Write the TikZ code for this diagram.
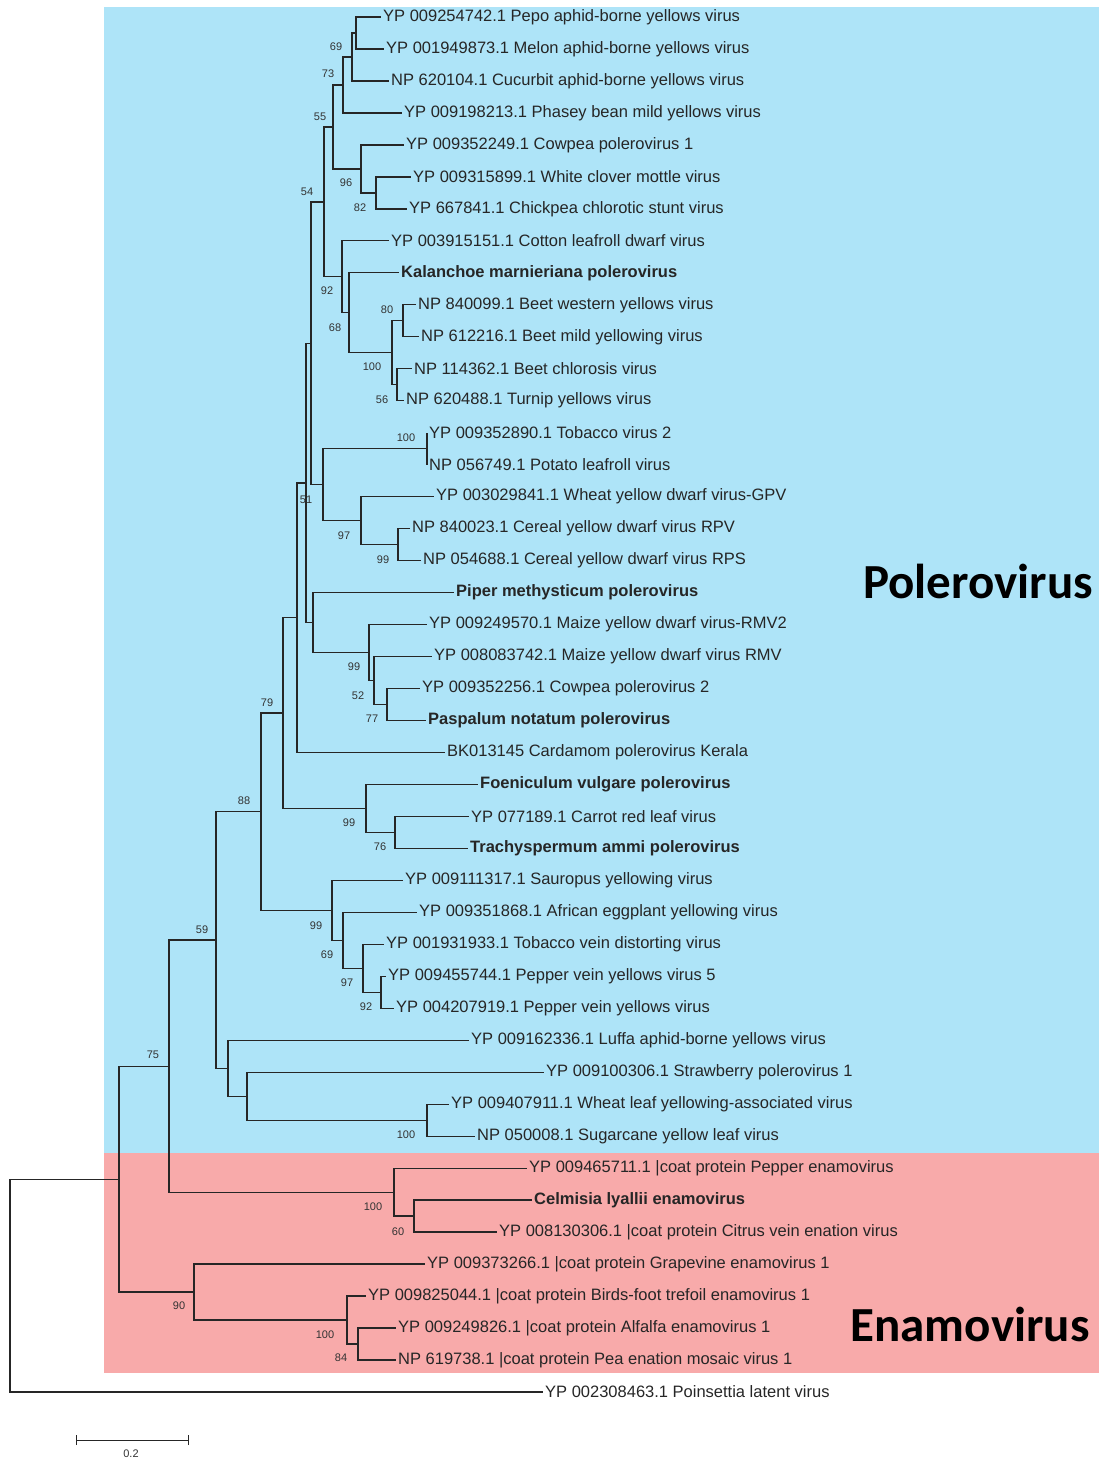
\documentclass[tikz,border=0pt]{standalone}
\usepackage{fontspec}
\setmainfont{Liberation Sans}
\newfontfamily\cladefont{Carlito}
\usetikzlibrary{positioning}
\definecolor{poleroblue}{RGB}{174,228,248}
\definecolor{enamopink}{RGB}{248,170,170}
\tikzset{
  leaf/.style={anchor=west, inner xsep=2pt, inner ysep=0pt, text=black!85, font=\fontsize{16.5}{18}\selectfont},
  newleaf/.style={leaf, font=\fontsize{16.5}{18}\selectfont\bfseries},
  boot/.style={inner sep=0pt, text=black!80, font=\fontsize{11}{12}\selectfont},
  branch/.style={line width=1.3pt, draw=black!85},
  clade/.style={inner sep=0pt, font=\cladefont\fontsize{49}{50}\selectfont\bfseries}
}

\begin{document}
\begin{tikzpicture}[x=1pt, y=-1pt]
    \useasboundingbox (0,0) rectangle (1099,1460);
    % clade boxes
    \fill[poleroblue] (104,7) rectangle (1099,1153);
    \fill[enamopink] (104,1153) rectangle (1099,1373);
    \node[clade] (polero) at (978,581) {Polerovirus};
    \node[clade] (enamo) at (970,1324) {Enamovirus};

    % leaves
    \node[leaf] (l1) at (381,17) {YP 009254742.1 Pepo aphid-borne yellows virus};
    \node[leaf] (l2) at (384,49) {YP 001949873.1 Melon aphid-borne yellows virus};
    \node[leaf] (l3) at (389,81) {NP 620104.1 Cucurbit aphid-borne yellows virus};
    \node[leaf] (l4) at (402,112.9) {YP 009198213.1 Phasey bean mild yellows virus};
    \node[leaf] (l5) at (404,144.9) {YP 009352249.1 Cowpea polerovirus 1};
    \node[leaf] (l6) at (411,176.9) {YP 009315899.1 White clover mottle virus};
    \node[leaf] (l7) at (407,208.9) {YP 667841.1 Chickpea chlorotic stunt virus};
    \node[leaf] (l8) at (389,240.8) {YP 003915151.1 Cotton leafroll dwarf virus};
    \node[newleaf] (l9) at (399,272.8) {Kalanchoe marnieriana polerovirus};
    \node[leaf] (l10) at (416,304.8) {NP 840099.1 Beet western yellows virus};
    \node[leaf] (l11) at (419,336.8) {NP 612216.1 Beet mild yellowing virus};
    \node[leaf] (l12) at (412,368.7) {NP 114362.1 Beet chlorosis virus};
    \node[leaf] (l13) at (404,400.7) {NP 620488.1 Turnip yellows virus};
    \node[leaf] (l14) at (427,432.7) {YP 009352890.1 Tobacco virus 2};
    \node[leaf] (l15) at (427,464.7) {NP 056749.1 Potato leafroll virus};
    \node[leaf] (l16) at (434,496.7) {YP 003029841.1 Wheat yellow dwarf virus-GPV};
    \node[leaf] (l17) at (410,528.6) {NP 840023.1 Cereal yellow dwarf virus RPV};
    \node[leaf] (l18) at (421,560.6) {NP 054688.1 Cereal yellow dwarf virus RPS};
    \node[newleaf] (l19) at (454,592.6) {Piper methysticum polerovirus};
    \node[leaf] (l20) at (427,624.6) {YP 009249570.1 Maize yellow dwarf virus-RMV2};
    \node[leaf] (l21) at (432,656.5) {YP 008083742.1 Maize yellow dwarf virus RMV};
    \node[leaf] (l22) at (420,688.5) {YP 009352256.1 Cowpea polerovirus 2};
    \node[newleaf] (l23) at (426,720.5) {Paspalum notatum polerovirus};
    \node[leaf] (l24) at (445,752.5) {BK013145 Cardamom polerovirus Kerala};
    \node[newleaf] (l25) at (478,784.4) {Foeniculum vulgare polerovirus};
    \node[leaf] (l26) at (469,816.4) {YP 077189.1 Carrot red leaf virus};
    \node[newleaf] (l27) at (468,848.4) {Trachyspermum ammi polerovirus};
    \node[leaf] (l28) at (403,880.4) {YP 009111317.1 Sauropus yellowing virus};
    \node[leaf] (l29) at (417,912.4) {YP 009351868.1 African eggplant yellowing virus};
    \node[leaf] (l30) at (384,944.3) {YP 001931933.1 Tobacco vein distorting virus};
    \node[leaf] (l31) at (386,976.3) {YP 009455744.1 Pepper vein yellows virus 5};
    \node[leaf] (l32) at (394,1008.3) {YP 004207919.1 Pepper vein yellows virus};
    \node[leaf] (l33) at (469,1040.3) {YP 009162336.1 Luffa aphid-borne yellows virus};
    \node[leaf] (l34) at (544,1072.2) {YP 009100306.1 Strawberry polerovirus 1};
    \node[leaf] (l35) at (449,1104.2) {YP 009407911.1 Wheat leaf yellowing-associated virus};
    \node[leaf] (l36) at (475,1136.2) {NP 050008.1 Sugarcane yellow leaf virus};
    \node[leaf] (l37) at (527,1168.2) {YP 009465711.1 |coat protein Pepper enamovirus};
    \node[newleaf] (l38) at (532,1200.1) {Celmisia lyallii enamovirus};
    \node[leaf] (l39) at (497,1232.1) {YP 008130306.1 |coat protein Citrus vein enation virus};
    \node[leaf] (l40) at (425,1264.1) {YP 009373266.1 |coat protein Grapevine enamovirus 1};
    \node[leaf] (l41) at (366,1296.1) {YP 009825044.1 |coat protein Birds-foot trefoil enamovirus 1};
    \node[leaf] (l42) at (396,1328) {YP 009249826.1 |coat protein Alfalfa enamovirus 1};
    \node[leaf] (l43) at (396,1360) {NP 619738.1 |coat protein Pea enation mosaic virus 1};
    \node[leaf] (l44) at (543,1392) {YP 002308463.1 Poinsettia latent virus};

    % internal nodes
    \coordinate (A) at (356,33);
    \coordinate (B) at (352,57);
    \coordinate (C) at (343,85);
    \coordinate (E) at (376,192.9);
    \coordinate (D) at (361,168.9);
    \coordinate (F) at (333,127);
    \coordinate (K) at (403,320.8);
    \coordinate (L) at (397,384.7);
    \coordinate (J) at (392,352.8);
    \coordinate (I) at (349,312.8);
    \coordinate (H) at (342,276.8);
    \coordinate (G) at (324,201.9);
    \coordinate (O) at (427,448.7);
    \coordinate (Q) at (398,544.6);
    \coordinate (P) at (361,520.7);
    \coordinate (N) at (323,484.7);
    \coordinate (M) at (311,343.3);
    \coordinate (W) at (387,704.5);
    \coordinate (V) at (374,680.5);
    \coordinate (U) at (369,652.6);
    \coordinate (S) at (313,622.6);
    \coordinate (R) at (306,483);
    \coordinate (T) at (297,617.8);
    \coordinate (AA) at (395,832.4);
    \coordinate (Y) at (366,808.4);
    \coordinate (X) at (283,713.1);
    \coordinate (AQ) at (381,992.3);
    \coordinate (AP) at (363,968.3);
    \coordinate (AO) at (343,940.4);
    \coordinate (AC) at (332,910.4);
    \coordinate (Z) at (261,811.8);
    \coordinate (AG) at (427,1120.2);
    \coordinate (AF) at (247,1096.2);
    \coordinate (AE) at (228,1068.3);
    \coordinate (AD) at (216,940.1);
    \coordinate (AJ) at (414,1216.1);
    \coordinate (AI) at (394,1192.2);
    \coordinate (AH) at (169,1066.2);
    \coordinate (AN) at (358,1344);
    \coordinate (AM) at (347,1320.1);
    \coordinate (AL) at (194,1292.1);
    \coordinate (AK) at (119,1179.2);
    \coordinate (root) at (10,1285.6);

    % branches
    \draw[branch] (A) |- (l1.west);  \draw[branch] (A) |- (l2.west);
    \draw[branch] (B) |- (A);        \draw[branch] (B) |- (l3.west);
    \draw[branch] (C) |- (B);        \draw[branch] (C) |- (l4.west);
    \draw[branch] (E) |- (l6.west);  \draw[branch] (E) |- (l7.west);
    \draw[branch] (D) |- (l5.west);  \draw[branch] (D) |- (E);
    \draw[branch] (F) |- (C);        \draw[branch] (F) |- (D);
    \draw[branch] (K) |- (l10.west); \draw[branch] (K) |- (l11.west);
    \draw[branch] (L) |- (l12.west); \draw[branch] (L) |- (l13.west);
    \draw[branch] (J) |- (K);        \draw[branch] (J) |- (L);
    \draw[branch] (I) |- (l9.west);  \draw[branch] (I) |- (J);
    \draw[branch] (H) |- (l8.west);  \draw[branch] (H) |- (I);
    \draw[branch] (G) |- (F);        \draw[branch] (G) |- (H);
    \draw[branch] (O) |- (l14.west); \draw[branch] (O) |- (l15.west);
    \draw[branch] (Q) |- (l17.west); \draw[branch] (Q) |- (l18.west);
    \draw[branch] (P) |- (l16.west); \draw[branch] (P) |- (Q);
    \draw[branch] (N) |- (O);        \draw[branch] (N) |- (P);
    \draw[branch] (M) |- (G);        \draw[branch] (M) |- (N);
    \draw[branch] (W) |- (l22.west); \draw[branch] (W) |- (l23.west);
    \draw[branch] (V) |- (l21.west); \draw[branch] (V) |- (W);
    \draw[branch] (U) |- (l20.west); \draw[branch] (U) |- (V);
    \draw[branch] (S) |- (l19.west); \draw[branch] (S) |- (U);
    \draw[branch] (R) |- (M);        \draw[branch] (R) |- (S);
    \draw[branch] (T) |- (R);        \draw[branch] (T) |- (l24.west);
    \draw[branch] (AA) |- (l26.west); \draw[branch] (AA) |- (l27.west);
    \draw[branch] (Y) |- (l25.west); \draw[branch] (Y) |- (AA);
    \draw[branch] (X) |- (T);        \draw[branch] (X) |- (Y);
    \draw[branch] (AQ) |- (l31.west); \draw[branch] (AQ) |- (l32.west);
    \draw[branch] (AP) |- (l30.west); \draw[branch] (AP) |- (AQ);
    \draw[branch] (AO) |- (l29.west); \draw[branch] (AO) |- (AP);
    \draw[branch] (AC) |- (l28.west); \draw[branch] (AC) |- (AO);
    \draw[branch] (Z) |- (X);        \draw[branch] (Z) |- (AC);
    \draw[branch] (AG) |- (l35.west); \draw[branch] (AG) |- (l36.west);
    \draw[branch] (AF) |- (l34.west); \draw[branch] (AF) |- (AG);
    \draw[branch] (AE) |- (l33.west); \draw[branch] (AE) |- (AF);
    \draw[branch] (AD) |- (Z);       \draw[branch] (AD) |- (AE);
    \draw[branch] (AJ) |- (l38.west); \draw[branch] (AJ) |- (l39.west);
    \draw[branch] (AI) |- (l37.west); \draw[branch] (AI) |- (AJ);
    \draw[branch] (AH) |- (AD);      \draw[branch] (AH) |- (AI);
    \draw[branch] (AN) |- (l42.west); \draw[branch] (AN) |- (l43.west);
    \draw[branch] (AM) |- (l41.west); \draw[branch] (AM) |- (AN);
    \draw[branch] (AL) |- (l40.west); \draw[branch] (AL) |- (AM);
    \draw[branch] (AK) |- (AH);      \draw[branch] (AK) |- (AL);
    \draw[branch] (root) |- (AK);    \draw[branch] (root) |- (l44.west);

    % bootstrap values
    \node[boot] (bB) at (336,47) {69};
    \node[boot] (bC) at (328,74) {73};
    \node[boot] (bF) at (320,117) {55};
    \node[boot] (bD) at (346,183) {96};
    \node[boot] (bE) at (360,208) {82};
    \node[boot] (bG) at (307,192) {54};
    \node[boot] (bH) at (327,291) {92};
    \node[boot] (bI) at (335,328) {68};
    \node[boot] (bK) at (387,310) {80};
    \node[boot] (bJ) at (372,367) {100};
    \node[boot] (bL) at (382,400) {56};
    \node[boot] (bO) at (406,438) {100};
    \node[boot] (bR) at (306,500) {51};
    \node[boot] (bP) at (344,536) {97};
    \node[boot] (bQ) at (383,560) {99};
    \node[boot] (bU) at (354,667) {99};
    \node[boot] (bV) at (358,696) {52};
    \node[boot] (bX) at (267,703) {79};
    \node[boot] (bW) at (372,719) {77};
    \node[boot] (bZ) at (244,801) {88};
    \node[boot] (bY) at (349,823) {99};
    \node[boot] (bAA) at (380,847) {76};
    \node[boot] (bAD) at (202,930) {59};
    \node[boot] (bAC) at (316,926) {99};
    \node[boot] (bAO) at (327,955) {69};
    \node[boot] (bAP) at (347,983) {97};
    \node[boot] (bAQ) at (366,1007) {92};
    \node[boot] (bAH) at (153,1055) {75};
    \node[boot] (bAG) at (406,1135) {100};
    \node[boot] (bAI) at (373,1207) {100};
    \node[boot] (bAJ) at (398,1232) {60};
    \node[boot] (bAL) at (179,1306) {90};
    \node[boot] (bAM) at (325,1335) {100};
    \node[boot] (bAN) at (341,1358) {84};

    % scale bar
    \coordinate (s0) at (76,1440);
    \coordinate (s1) at (188,1440);
    \draw[branch, line width=1pt] ([yshift=-5pt]s0) -- ([yshift=5pt]s0);
    \draw[branch, line width=1pt] ([yshift=-5pt]s1) -- ([yshift=5pt]s1);
    \draw[branch, line width=1pt] (s0) -- (s1);
    \node[boot] (scale) at (131,1454) {0.2};
\end{tikzpicture}
\end{document}
